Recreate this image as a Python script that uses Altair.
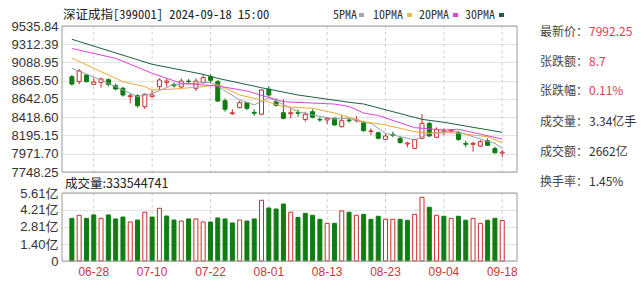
import altair as alt
import pandas as pd

# ---------------- data ----------------
DATES = ["06-25", "06-26", "06-27", "06-28",
         "07-01", "07-02", "07-03", "07-04", "07-05", "07-08", "07-09", "07-10", "07-11", "07-12",
         "07-15", "07-16", "07-17", "07-18", "07-19", "07-22", "07-23", "07-24", "07-25", "07-26",
         "07-29", "07-30", "07-31",
         "08-01", "08-02", "08-05", "08-06", "08-07", "08-08", "08-09", "08-12", "08-13", "08-14",
         "08-15", "08-16", "08-19", "08-20", "08-21", "08-22", "08-23", "08-26", "08-27", "08-28",
         "08-29", "08-30",
         "09-02", "09-03", "09-04", "09-05", "09-06", "09-09", "09-10", "09-11", "09-12", "09-13", "09-18"]

OPEN = [8915, 8854, 8936, 8822, 8846, 8878, 8805, 8773, 8670, 8682,
        8548, 8670, 8793, 8846, 8822, 8789, 8862, 8773, 8846, 8915,
        8854, 8621, 8462, 8536, 8597, 8479, 8455, 8761, 8609, 8474,
        8462, 8474, 8393, 8486, 8393, 8385, 8406, 8303, 8385, 8380,
        8352, 8246, 8229, 8148, 8209, 8160, 8091, 8038, 8161, 8344,
        8173, 8242, 8250, 8229, 8099, 8087, 8066, 8131, 8036, 7980]
CLOSE = [8825, 8985, 8854, 8850, 8887, 8822, 8764, 8691, 8682, 8560,
         8700, 8691, 8875, 8862, 8805, 8862, 8854, 8862, 8903, 8871,
         8617, 8516, 8474, 8597, 8528, 8467, 8752, 8691, 8565, 8405,
         8474, 8467, 8455, 8418, 8385, 8406, 8324, 8376, 8376, 8387,
         8254, 8250, 8161, 8189, 8197, 8107, 8103, 8148, 8344, 8189,
         8271, 8254, 8262, 8148, 8087, 8099, 8119, 8075, 7983.55, 7992.25]
HIGH = [8936, 9009, 8948, 8903, 8903, 8895, 8830, 8793, 8712, 8700,
        8712, 8752, 8895, 8895, 8846, 8895, 8887, 8895, 8945, 8945,
        8875, 8651, 8516, 8621, 8609, 8516, 8761, 8801, 8651, 8638,
        8528, 8516, 8486, 8516, 8418, 8418, 8418, 8446, 8406, 8432,
        8376, 8283, 8242, 8222, 8242, 8180, 8119, 8150, 8458, 8364,
        8295, 8283, 8271, 8254, 8131, 8119, 8140, 8161, 8060, 8017]
LOW = [8805, 8822, 8846, 8813, 8780, 8793, 8749, 8670, 8589, 8536,
       8520, 8658, 8752, 8793, 8780, 8773, 8822, 8740, 8830, 8834,
       8605, 8486, 8446, 8528, 8507, 8434, 8446, 8670, 8548, 8393,
       8405, 8425, 8364, 8405, 8364, 8336, 8312, 8295, 8352, 8352,
       8242, 8201, 8148, 8140, 8173, 8099, 8050, 8030, 8148, 8180,
       8173, 8201, 8222, 8131, 8050, 7997, 8058, 8066, 7975, 7930]

# volume in 亿 (1e8 shares)
VOLUME = [3.52, 3.77, 3.52, 3.80, 3.52, 3.80, 3.47, 3.63, 3.22, 3.38,
          4.02, 3.63, 4.35, 3.71, 3.38, 3.30, 3.47, 3.47, 3.22, 3.22,
          3.55, 3.47, 3.14, 3.38, 3.30, 3.47, 5.01, 4.37, 4.29, 4.70,
          4.02, 3.60, 3.93, 3.77, 3.44, 3.11, 3.11, 4.13, 4.02, 3.77,
          3.85, 3.44, 3.69, 3.44, 3.44, 3.44, 3.36, 3.85, 5.25, 4.43,
          3.77, 3.69, 3.52, 3.69, 3.36, 3.52, 3.11, 3.36, 3.52, 3.335]
VOL_DIR = ["down", "up", "down", "down", "up", "down", "down", "down", "up", "down",
           "up", "down", "up", "down", "down", "up", "down", "up", "up", "down",
           "down", "down", "down", "up", "down", "down", "up", "down", "down", "down",
           "up", "down", "down", "down", "down", "up", "down", "up", "down", "up",
           "down", "down", "down", "up", "up", "down", "down", "up", "up", "down",
           "up", "down", "up", "down", "down", "up", "up", "down", "down", "up"]

# moving averages: (bar index, value)
MA5 = [(0, 9018), (4, 8875), (9, 8670), (11, 8709), (14, 8819), (19, 8846), (20, 8800),
       (23, 8630), (25, 8569), (27, 8660), (28, 8617), (31, 8487), (33, 8446), (36, 8397),
       (38, 8406), (39, 8373), (41, 8345), (43, 8222), (46, 8161), (47, 8140), (49, 8222),
       (51, 8242), (53, 8242), (55, 8180), (58, 8099), (59, 8038)]
MA10 = [(0, 9144), (3, 9018), (7, 8854), (10, 8793), (11, 8752), (14, 8764), (18, 8793),
        (20, 8819), (23, 8691), (26, 8630), (29, 8548), (33, 8528), (36, 8471), (40, 8364),
        (43, 8324), (47, 8242), (49, 8222), (52, 8229), (53, 8222), (57, 8180), (59, 8107)]
MA20 = [(0, 9260), (6, 9140), (11, 8957), (15, 8834), (18, 8814), (20, 8801), (24, 8740),
        (29, 8609), (36, 8580), (38, 8550), (40, 8471), (42, 8440), (47, 8291), (51, 8262),
        (53, 8271), (59, 8152)]
MA30 = [(0, 9373), (11, 9067), (18, 8944), (20, 8895), (26, 8780), (31, 8691), (38, 8602),
        (40, 8581), (48, 8393), (51, 8357), (59, 8234)]

MA_NAMES = ["5PMA", "10PMA", "20PMA", "30PMA"]
MA_COLORS = ["#95a0aa", "#eeaa33", "#dd44d8", "#1f5e40"]
SWATCH_COLORS = ["#a8a8a8", "#e8c048", "#dd44dd", "#1f5e40"]

PRICE_TICKS = [7748.25, 7971.70, 8195.15, 8418.60, 8642.05, 8865.50, 9088.95, 9312.39, 9535.84]
VOL_TICKS = [0, 1.40, 2.81, 4.21, 5.61]
X_LABELS = ["06-28", "07-10", "07-22", "08-01", "08-13", "08-23", "09-04", "09-18"]

TITLE = "深证成指[399001] 2024-09-18 15:00"
VOL_TITLE = "成交量:333544741"
INFO_LABELS = ["最新价：", "张跌额：", "张跌幅：", "成交量：", "成交额：", "换手率："]
INFO_VALUES = ["7992.25", "8.7", "0.11%", "3.34亿手", "2662亿", "1.45%"]
INFO_RED = [True, True, True, False, False, False]

# ---------------- styling ----------------
RED = "#cc2a2a"
GREEN = "#0f7d12"
W, H = 455, 235
P_TOP, P_BOT = 0, 146
V_TOP, V_BOT = 167, 235
NUM_FONT = "Liberation Sans, Arial, Noto Sans CJK SC"
CJK_FONT = "Noto Sans CJK SC"
MONO_FONT = "Noto Sans Mono CJK SC, Noto Sans CJK SC"

candles = pd.DataFrame({"i": list(range(len(DATES))), "d": DATES,
                        "o": OPEN, "c": CLOSE, "h": HIGH, "l": LOW})
candles["dir"] = ["up" if c >= o else "down" for o, c in zip(OPEN, CLOSE)]
vol = pd.DataFrame({"i": list(range(len(DATES))), "v": VOLUME, "dir": VOL_DIR})

ma_rows = []
for name, series in zip(MA_NAMES, [MA5, MA10, MA20, MA30]):
    for i, v in series:
        ma_rows.append({"i": i, "v": v, "s": name})
ma = pd.DataFrame(ma_rows)

xl = pd.DataFrame({"i": [DATES.index(d) for d in X_LABELS], "t": X_LABELS})

xscale = alt.Scale(domain=[-0.67, 60.34], nice=False, zero=False)
X = alt.X("i:Q", scale=xscale, axis=None)

pscale = alt.Scale(domain=[PRICE_TICKS[0], PRICE_TICKS[-1]], range=[P_BOT, P_TOP], nice=False, zero=False)
paxis = alt.Axis(values=PRICE_TICKS, format=".2f", orient="left", domain=False, ticks=False,
                 labelPadding=4, grid=True, gridColor="#e3e3e3", labelFont=NUM_FONT,
                 labelFontSize=13, labelColor="#333333", labelFlush=False, title=None)
vscale = alt.Scale(domain=[0, 5.61], range=[V_BOT, V_TOP], nice=False, zero=True)
vaxis = alt.Axis(values=VOL_TICKS, orient="left", domain=False, ticks=False, labelPadding=4,
                 grid=True, gridColor="#e3e3e3", labelFont=NUM_FONT, labelFontSize=13,
                 labelColor="#333333", labelFlush=False, title=None,
                 labelExpr="datum.value == 0 ? '0' : format(datum.value, '.2f') + '亿'")

up_cond = "datum.dir == 'up'"

wicks = alt.Chart(candles).mark_rule(strokeWidth=1).encode(
    x=X, y=alt.Y("l:Q", scale=pscale, axis=paxis), y2="h:Q",
    color=alt.condition(up_cond, alt.value(RED), alt.value(GREEN)))
bodies = alt.Chart(candles).mark_bar(width=4, strokeWidth=1).encode(
    x=X, y=alt.Y("o:Q", scale=pscale, axis=paxis), y2="c:Q",
    fill=alt.condition(up_cond, alt.value("white"), alt.value(GREEN)),
    stroke=alt.condition(up_cond, alt.value(RED), alt.value(GREEN)))
ma_lines = alt.Chart(ma).mark_line(strokeWidth=1).encode(
    x=X, y=alt.Y("v:Q", scale=pscale, axis=paxis),
    color=alt.Color("s:N", scale=alt.Scale(domain=MA_NAMES, range=MA_COLORS), legend=None))
price = alt.layer(wicks, bodies, ma_lines)

vbars = alt.Chart(vol).mark_bar(width=4, strokeWidth=1).encode(
    x=X, y=alt.Y("v:Q", scale=vscale, axis=vaxis),
    fill=alt.condition(up_cond, alt.value("white"), alt.value(GREEN)),
    stroke=alt.condition(up_cond, alt.value(RED), alt.value(GREEN)))

vgrid_p = alt.Chart(xl).mark_rule(strokeWidth=1, color="#cfcfcf", strokeDash=[3, 3]).encode(
    x=X, y=alt.value(P_TOP), y2=alt.value(P_BOT))
vgrid_v = alt.Chart(xl).mark_rule(strokeWidth=1, color="#cfcfcf", strokeDash=[3, 3]).encode(
    x=X, y=alt.value(V_TOP), y2=alt.value(V_BOT))

one = pd.DataFrame({"k": [0]})


def frame(y0, y1):
    return alt.Chart(one).mark_rect(fillOpacity=0, stroke="#9a9a9a", strokeWidth=1).encode(
        x=alt.value(0), x2=alt.value(W), y=alt.value(y0), y2=alt.value(y1))


def txt(s, x, y, color, size, font, align="left"):
    return alt.Chart(pd.DataFrame({"t": [s]})).mark_text(
        align=align, baseline="middle", color=color, fontSize=size, font=font).encode(
        x=alt.value(x), y=alt.value(y), text="t:N")


xlabels = alt.Chart(xl).mark_text(baseline="middle", align="center", color="#c43a3a",
                                  fontSize=12, font=NUM_FONT).encode(
    x=X, y=alt.value(246), text="t:N")

texts = [txt(TITLE, 1, -11, "#222222", 12.5, MONO_FONT),
         txt(VOL_TITLE, 3, 157.5, "#222222", 12.5, CJK_FONT)]

# legend (label followed by swatch)
legend_text_x = [271, 311, 357, 403]
legend_swatch_x = [297, 345, 391, 437]
for name, tx, sx, col in zip(MA_NAMES, legend_text_x, legend_swatch_x, SWATCH_COLORS):
    texts.append(txt(name, tx, -11, "#333333", 12, MONO_FONT))
    texts.append(alt.Chart(one).mark_rect(color=col).encode(
        x=alt.value(sx), x2=alt.value(sx + 5), y=alt.value(-13), y2=alt.value(-9)))

info_y = [6, 36, 65, 95.5, 125.5, 155.5]
for lab, val, red, y in zip(INFO_LABELS, INFO_VALUES, INFO_RED, info_y):
    texts.append(txt(lab, 478, y, "#444444", 12, CJK_FONT))
    texts.append(txt(val, 527, y, "#dd3c4c" if red else "#333333", 12, CJK_FONT))

chart = alt.layer(
    vgrid_p, vgrid_v, price, vbars, frame(P_TOP, P_BOT), frame(V_TOP, V_BOT), xlabels, *texts
).resolve_scale(y="independent").properties(
    width=W, height=H,
    padding={"left": 62, "top": 26, "right": 643 - 62 - W, "bottom": 283 - 26 - H},
    autosize=alt.AutoSizeParams(type="none"),
    background="white",
).configure_view(strokeWidth=0)

chart.save("out.html", embed_options={"renderer": "svg", "actions": False})
